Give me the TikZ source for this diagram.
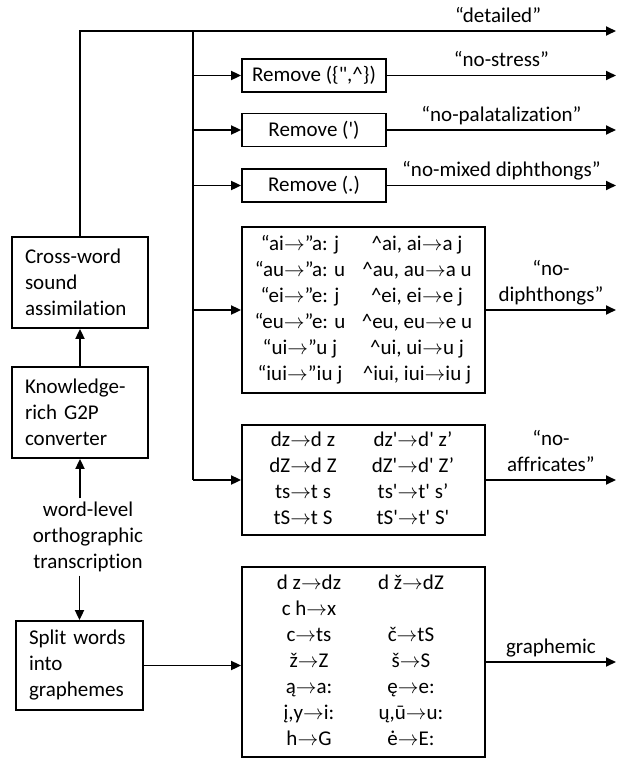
\documentclass[tikz,border=0pt]{standalone}
\usepackage{fontspec}
\setmainfont{Carlito}[Ligatures={TeX,NoCommon}]
\usepackage{array}
\usetikzlibrary{arrows.meta}
\newcolumntype{C}[1]{>{\centering\arraybackslash}p{#1}}
\newcommand{\rarr}{$\rightarrow$}
\newcommand{\aps}{\textquotesingle}

\begin{document}
\begin{tikzpicture}[x=1pt, y=-1pt,
    every node/.style={font=\fontsize{21}{26}\selectfont},
    box/.style={draw, line width=1.8pt, inner sep=0pt},
    lbox/.style={box, align=left, inner xsep=13pt, text width=110pt, minimum height=91pt},
    arr/.style={line width=1.8pt, -{Triangle[length=10pt,width=9pt]}},
    lbl/.style={above=8pt, inner sep=0pt, text depth=0pt, align=center}]
    \useasboundingbox (0,0) rectangle (618,758);
    % left column
    \node[lbox] (cw) at (80,282.5) {Cross-word\\sound\\assimilation};
    \node[lbox] (kn) at (80,412.5) {Knowledge-\\rich G2P\\converter};
    \node[align=center] (wl) at (88,537) {word-level\\orthographic\\transcription};
    \node[lbox, text width=101pt, minimum height=89pt] (sp) at (79.5,665.5) {Split words\\into\\graphemes};
    % right column
    \node[box, minimum width=144pt, minimum height=33pt] (rs) at (314,75.5) {Remove (\{\textquotedbl,\textasciicircum\})};
    \node[box, minimum width=144pt, minimum height=33pt] (rp) at (314,130) {Remove (\aps)};
    \node[box, minimum width=144pt, minimum height=33pt] (rd) at (314,185.5) {Remove (.)};
    \node[box, minimum width=243pt, minimum height=166pt] (dp) at (363.5,310) {%
        \begin{tabular}{@{}C{107pt}@{}C{127pt}@{}}
        “ai\rarr”a: j & \textasciicircum ai, ai\rarr a j\\
        “au\rarr”a: u & \textasciicircum au, au\rarr a u\\
        “ei\rarr”e: j & \textasciicircum ei, ei\rarr e j\\
        “eu\rarr”e: u & \textasciicircum eu, eu\rarr e u\\
        “ui\rarr”u j & \textasciicircum ui, ui\rarr u j\\
        “iui\rarr”iu j & \textasciicircum iui, iui\rarr iu j
        \end{tabular}};
    \node[box, minimum width=243pt, minimum height=110pt] (af) at (363.5,480) {%
        \begin{tabular}{@{}C{99pt}@{}C{121pt}@{}}
        dz\rarr d z & dz\aps\rarr d\aps{} z’\\
        dZ\rarr d Z & dZ\aps\rarr d\aps{} Z’\\
        ts\rarr t s & ts\aps\rarr t\aps{} s’\\
        tS\rarr t S & tS\aps\rarr t\aps{} S\aps
        \end{tabular}};
    \node[box, minimum width=243pt, minimum height=190pt] (gr) at (363.5,662) {%
        \begin{tabular}{@{}C{95pt}@{}C{109pt}@{}}
        d z\rarr dz & d ž\rarr dZ\\
        c h\rarr x & \\
        c\rarr ts & č\rarr tS\\
        ž\rarr Z & š\rarr S\\
        ą\rarr a: & ę\rarr e:\\
        į,y\rarr i: & ų,ū\rarr u:\\
        h\rarr G & ė\rarr E:
        \end{tabular}};
    \coordinate (top) at (80,31);
    \coordinate (tr) at (616,31);
    \coordinate (bt) at (193,31);
    \coordinate (edge) at (616,0);
    % connectors
    \draw[arr] (kn.north) -- (cw.south);
    \draw[arr] (wl.north -| kn.south) -- (kn.south);
    \draw[arr] (wl.south -| sp.north) -- (sp.north);
    \draw[arr] (sp.east) -- (sp.east -| gr.west);
    \draw[arr] (cw.north) -- (top) -- (tr) node[lbl, pos=0.78] {“detailed”};
    \draw[line width=1.8pt] (bt) -- (bt |- af.west);
    \foreach \b in {rs,rp,rd,dp,af}
        \draw[arr] (bt |- \b.west) -- (\b.west);
    \draw[arr] (rs.east) -- (rs.east -| edge) node[lbl, midway] {“no-stress”};
    \draw[arr] (rp.east) -- (rp.east -| edge) node[lbl, midway] {“no-palatalization”};
    \draw[arr] (rd.east) -- (rd.east -| edge) node[lbl, midway] {“no-mixed diphthongs”};
    \draw[arr] (dp.east) -- (dp.east -| edge) node[lbl, midway] {“no-\\diphthongs”};
    \draw[arr] (af.east) -- (af.east -| edge) node[lbl, midway] {“no-\\affricates”};
    \draw[arr] (gr.east) -- (gr.east -| edge) node[lbl, midway] {graphemic};
\end{tikzpicture}
\end{document}
